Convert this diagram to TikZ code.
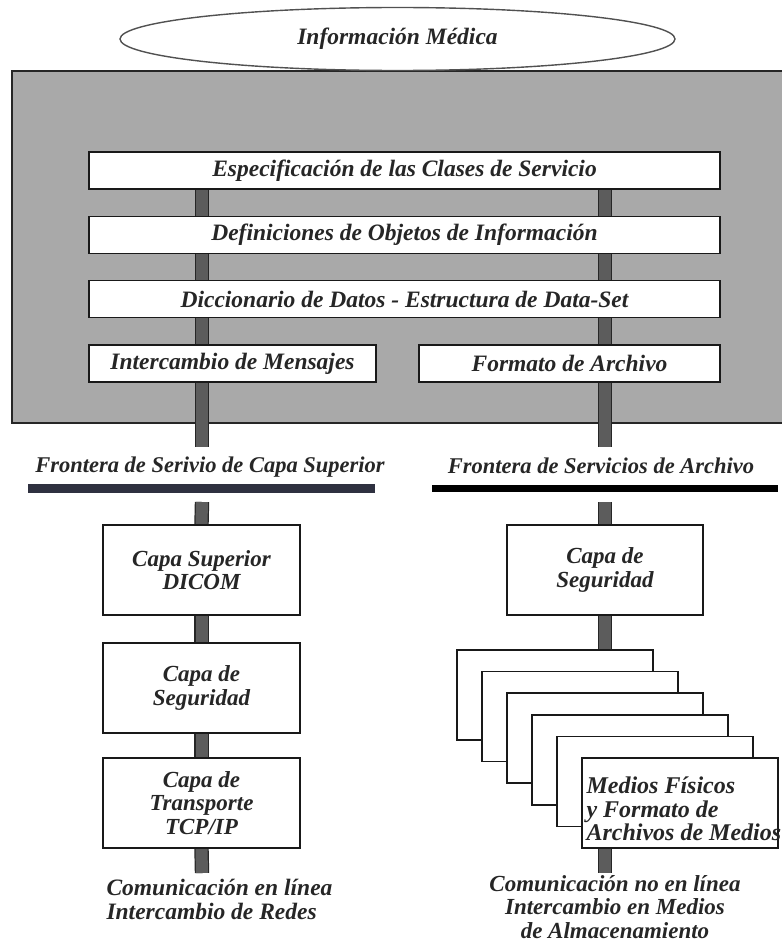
\documentclass[tikz,border=0pt]{standalone}
\usepackage{fontspec}
\setmainfont{Liberation Serif}
\usetikzlibrary{shapes.geometric,backgrounds}
\definecolor{ink}{HTML}{262626}
\definecolor{panelgray}{HTML}{A9A9A9}
\definecolor{barfill}{HTML}{5C5C5C}
\definecolor{edgeblue}{HTML}{2F3140}
\begin{document}
\begin{tikzpicture}[x=1pt,y=-1pt,
  bfi/.style={text=ink,font=\bfseries\itshape\fontsize{#1}{23.5}\selectfont},
  bfi/.default=23,
  upbox/.style={draw=black!90,line width=1.5pt,fill=white,minimum height=37pt,inner sep=0pt,bfi=23.5},
  lowbox/.style={draw=black!90,line width=1.5pt,fill=white,minimum width=197pt,minimum height=90pt,inner sep=0pt,align=center,bfi},
  mediabox/.style={draw=black!90,line width=1.5pt,fill=white,minimum width=196pt,minimum height=90pt,inner sep=0pt},
  bar/.style={draw=black!85,line width=1.2pt,double=barfill,double distance=12pt},
  edgebar/.style={fill=#1,draw=none}
]
\useasboundingbox (0,0) rectangle (782,942);

% header ellipse
\node[draw=ink!80,line width=1.4pt,ellipse,minimum width=555pt,minimum height=63pt,inner sep=0pt,bfi=23.5] (info) at (397.5,39) {Información Médica};

% stacked upper layers
\node[upbox,minimum width=631pt] (spec) at (404.5,170.5) {Especificación de las Clases de Servicio};
\node[upbox,minimum width=631pt] (iod)  at (404.5,235)   {Definiciones de Objetos de Información};
\node[upbox,minimum width=631pt] (dict) at (404.5,299)   {Diccionario de Datos - Estructura de Data-Set};
\node[upbox,minimum width=287pt] (msg)  at (232.5,363.5) {Intercambio de Mensajes};
\node[upbox,minimum width=301pt] (fmt)  at (569.5,363.5) {Formato de Archivo};

% service boundaries
\node[bfi=22.5] (bnet) at (210,467) {Frontera de Serivio de Capa Superior};
\node[bfi=22.5] (bfile) at (601,466) {Frontera de Servicios de Archivo};
\path[edgebar=edgeblue] (28,484) rectangle (375,493);
\path[edgebar=black] (432,485) rectangle (778,492);

% network side
\node[lowbox] (dicom) at (201.5,570) {Capa Superior\\DICOM};
\node[lowbox] (secL)  at (201.5,688) {Capa de\\Seguridad};
\node[lowbox] (tcp)   at (201.5,803) {Capa de\\Transporte\\TCP/IP};
\node[bfi=23.5,align=left,anchor=west] (online) at (103,899.5) {Comunicación en línea\\Intercambio de Redes};

% media side
\node[lowbox,minimum width=196pt] (secR) at (605,570) {Capa de\\Seguridad};
\foreach \i in {0,...,4}
  \node[mediabox] (m\i) at ({555+25*\i},{695+21.6*\i}) {};
\node[mediabox] (m5) at (680,803) {};
\node[bfi=24,align=left,anchor=west] (mtext) at (583,809) {Medios Físicos\\y Formato de\\Archivos de Medios};
\node[bfi,align=center] (offline) at (615,907) {Comunicación no en línea\\Intercambio en Medios\\de Almacenamiento};

% bar end points at the boundaries
\coordinate (Lend) at (202,447);
\coordinate (Rend) at (605,447);
\coordinate (Lstart) at (202,502);
\coordinate (Rstart) at (605,502);
\coordinate (Lbot) at (202,873);
\coordinate (Rbot) at (605,873);

\begin{scope}[on background layer]
  % grey panel holding the upper layers
  \fill[panelgray] (12,71) rectangle (782,423);
  \draw[draw=black!85,line width=2pt] (782,71) -- (12,71) -- (12,423) -- (782,423);
  % vertical links
  \draw[bar] (spec.south -| Lend) -- (Lend);
  \draw[bar] (spec.south -| Rend) -- (Rend);
  \draw[bar] (Lstart) -- (dicom.north);
  \draw[bar] (dicom.south) -- (secL.north);
  \draw[bar] (secL.south) -- (tcp.north);
  \draw[bar] (tcp.south) -- (Lbot);
  \draw[bar] (Rstart) -- (secR.north);
  \draw[bar] (secR.south) -- (m0.north -| secR.south);
  \draw[bar] (m5.south -| Rbot) -- (Rbot);
\end{scope}
\end{tikzpicture}
\end{document}
